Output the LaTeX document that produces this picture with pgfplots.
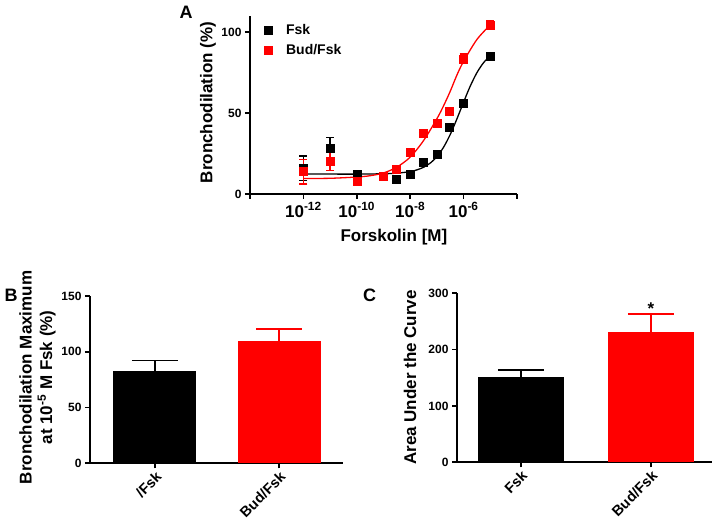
\documentclass[border=0pt]{standalone}
\usepackage{fontspec}
\setmainfont{Liberation Sans}
\usepackage{pgfplots}
\pgfplotsset{compat=1.18}
\definecolor{bred}{RGB}{255,0,0}

\newcommand\fsz[1]{\fontsize{#1bp}{1.2\dimexpr#1bp\relax}\selectfont\bfseries}

\pgfplotsset{
  gp/.style={
    scale only axis,
    anchor=south west,
    axis x line=bottom, axis y line=left,
    axis line style={line width=1.6bp,-},
    every tick/.style={line width=1.6bp, black},
    tick align=outside,
    major tick length=5bp,
    ticklabel style={font=\fsz{12}},
    label style={font=\fsz{17}},
    /pgf/number format/assume math mode=true,
    clip=false,
  },
  barerr/.style={
    error bars/.cd, y dir=plus, y explicit,
    error bar style={line width=1.6bp, #1},
    error mark options={rotate=90, line width=1.6bp, mark size=23bp, #1},
  },
  pterr/.style={
    error bars/.cd, y dir=both, y explicit,
    error bar style={line width=1.4bp, #1},
    error mark options={rotate=90, line width=1.4bp, mark size=4bp, #1},
  },
  rotlab/.style={rotate=45, anchor=north east, inner sep=1.5bp, font=\fsz{14.5}},
}

\begin{document}
\begin{tikzpicture}
\useasboundingbox (0,0) rectangle (720bp,521bp);

% ---- panel A: concentration-response
\begin{axis}[gp,
  at={(250bp,327bp)}, width=267bp, height=178bp,
  xmode=log, xmin=1e-14, xmax=1e-4, ymin=0, ymax=110,
  xtick={1e-14,1e-12,1e-10,1e-8,1e-6,1e-4},
  xticklabels={,10\textsuperscript{-12},10\textsuperscript{-10},10\textsuperscript{-8},10\textsuperscript{-6},},
  xticklabel style={font=\fsz{17}},
  xminorticks=false,
  ytick={0,50,100},
  xlabel={Forskolin [M]},
  ylabel={Bronchodilation (\%)},
  xlabel style={at={(axis description cs:0.539,-0.244)}, anchor=center},
  ylabel style={at={(axis description cs:-0.157,0.514)}, anchor=center},
  legend style={draw=none, fill=none, at={(axis description cs:0.041,0.978)},
    anchor=north west, font=\fsz{14}, row sep=4.5bp,
    /tikz/every odd column/.append style={column sep=12bp}},
  legend cell align=left,
]
\addplot[black, line width=1.3bp, smooth, forget plot] coordinates {
  (1e-12,12.3) (1e-11,12.3) (1e-10,12.3) (1e-9,12.5) (3.162e-9,12.9)
  (1e-8,13.8) (1.778e-8,14.9) (3.162e-8,16.5) (5.623e-8,19.1) (1e-7,23.1)
  (1.778e-7,28.9) (3.162e-7,36.8) (5.623e-7,46.4) (1e-6,56.8)
  (1.778e-6,66.7) (3.162e-6,75.0) (5.623e-6,81.2) (1e-5,85.5)};
\addplot[bred, line width=1.3bp, smooth, forget plot] coordinates {
  (1e-12,9.6) (1e-11,9.7) (1e-10,10.5) (3.162e-10,11.3) (1e-9,13.0)
  (3.162e-9,16.6) (1e-8,22.8) (3.162e-8,33.0) (1e-7,46.5)
  (1.778e-7,54.5) (3.162e-7,63.5) (5.623e-7,73.5) (1e-6,82.0)
  (3.162e-6,95.5) (1e-5,104.5)};
\addplot[only marks, mark=square*, mark size=4bp, black, pterr=black]
  coordinates {
  (1e-12,16) +- (0,7.5) (1e-11,28) +- (0,7) (1e-10,12.5) +- (0,1)
  (1e-9,11) +- (0,0.5) (3e-9,9) +- (0,0.5) (1e-8,12.5) +- (0,0.5)
  (3e-8,19.5) +- (0,0.5) (1e-7,24.7) +- (0,0.5) (3e-7,41) +- (0,1)
  (1e-6,56) +- (0,1) (1e-5,85) +- (0,2)};
\addplot[only marks, mark=square*, mark size=4bp, bred, pterr=bred]
  coordinates {
  (1e-12,13.8) +- (0,7.7) (1e-11,20.4) +- (0,5.8) (1e-10,7.6) +- (0,1.5)
  (1e-9,11) +- (0,0.5) (3e-9,15.4) +- (0,0.5) (1e-8,26) +- (0,0.5)
  (3e-8,37.4) +- (0,0.5) (1e-7,43.6) +- (0,0.5) (3e-7,51.4) +- (0,0.5)
  (1e-6,83.5) +- (0,3) (1e-5,104.3) +- (0,2.5)};
\legend{Fsk, Bud/Fsk}
\end{axis}

% ---- panel B: maximum at 1e-5 M
\begin{axis}[gp,
  at={(90bp,57.7bp)}, width=253bp, height=167.3bp,
  xmin=-0.524, xmax=1.516, ymin=0, ymax=150,
  ytick={0,50,100,150},
  xtick={0,1}, xticklabels={/Fsk,Bud/Fsk},
  xticklabel style={rotlab},
  ylabel={Bronchodilation Maximum\\at 10\textsuperscript{-5} M Fsk (\%)},
  ylabel style={align=center, at={(axis description cs:-0.2075,0.513)}, anchor=center},
]
\addplot[ybar, bar width=83bp, bar shift=0pt, fill=black, draw=none, barerr=black]
  coordinates {(0,83) +- (0,9)};
\addplot[ybar, bar width=83bp, bar shift=0pt, fill=bred, draw=none, barerr=bred]
  coordinates {(1,109.6) +- (0,11)};
\end{axis}

% ---- panel C: area under the curve
\begin{axis}[gp,
  at={(457bp,58.7bp)}, width=255bp, height=169bp,
  xmin=-0.49, xmax=1.47, ymin=0, ymax=300,
  ytick={0,100,200,300},
  xtick={0,1}, xticklabels={Fsk,Bud/Fsk},
  xticklabel style={rotlab},
  ylabel={Area Under the Curve},
  ylabel style={at={(axis description cs:-0.184,0.502)}, anchor=center},
]
\addplot[ybar, bar width=86bp, bar shift=0pt, fill=black, draw=none, barerr=black]
  coordinates {(0,151) +- (0,13)};
\addplot[ybar, bar width=86bp, bar shift=0pt, fill=bred, draw=none, barerr=bred]
  coordinates {(1,232) +- (0,31)};
\node[font=\fsz{17}, anchor=south, inner sep=0pt] at (axis cs:1,262) {*};
\end{axis}

\node[font=\fsz{18}] at (186bp,509bp) {A};
\node[font=\fsz{18}] at (11bp,225.5bp) {B};
\node[font=\fsz{18}] at (369.5bp,225.5bp) {C};
\end{tikzpicture}
\end{document}
